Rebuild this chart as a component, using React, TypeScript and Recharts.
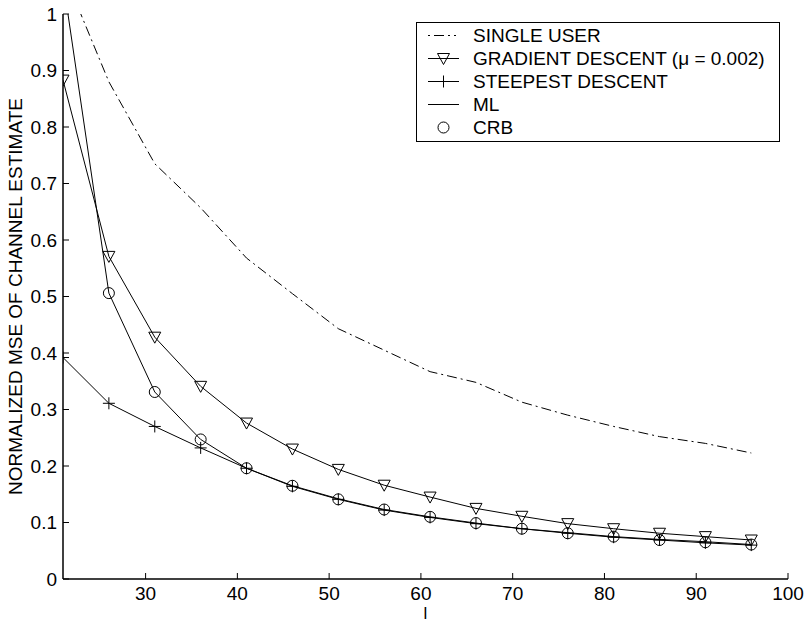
import React from 'react';
import { LineChart, Line, XAxis, YAxis, Legend } from 'recharts';

// sample index l
const lValues = [21, 26, 31, 36, 41, 46, 51, 56, 61, 66, 71, 76, 81, 86, 91, 96];

const singleUser = [1.076, 0.88, 0.735, 0.657, 0.568, 0.505, 0.443, 0.405, 0.367, 0.348, 0.313, 0.29, 0.27, 0.252, 0.24, 0.223];
const gradientDescent = [0.883, 0.571, 0.428, 0.341, 0.276, 0.23, 0.194, 0.166, 0.145, 0.125, 0.111, 0.098, 0.089, 0.081, 0.075, 0.069];
const steepestDescent = [0.392, 0.311, 0.27, 0.232, 0.196, 0.164, 0.141, 0.122, 0.109, 0.098, 0.089, 0.081, 0.074, 0.069, 0.064, 0.06];
const ml = [1.06, 0.506, 0.331, 0.247, 0.196, 0.165, 0.142, 0.123, 0.11, 0.099, 0.089, 0.082, 0.075, 0.07, 0.066, 0.061];
const crb = [null, 0.506, 0.331, 0.247, 0.196, 0.165, 0.141, 0.123, 0.11, 0.099, 0.089, 0.081, 0.075, 0.069, 0.065, 0.061];

const xTicks = [30, 40, 50, 60, 70, 80, 90, 100];
const yTicks = [0, 0.1, 0.2, 0.3, 0.4, 0.5, 0.6, 0.7, 0.8, 0.9, 1];
const yTickLabels = ['0', '0.1', '0.2', '0.3', '0.4', '0.5', '0.6', '0.7', '0.8', '0.9', '1'];

const legendNames = ['SINGLE USER', 'GRADIENT DESCENT (\u03bc = 0.002)', 'STEEPEST DESCENT', 'ML', 'CRB'];

const data = lValues.map((l, i) => ({
  l,
  single: singleUser[i],
  gradient: gradientDescent[i],
  steepest: steepestDescent[i],
  ml: ml[i],
  crb: crb[i],
}));

const FONT = '"Liberation Sans", Arial, Helvetica, sans-serif';
const DASH_DOT = '10 4 2 4';

function triangle(cx: number, cy: number, key?: any) {
  return (
    <path
      key={key}
      d={`M${cx - 6},${cy - 5} L${cx + 6},${cy - 5} L${cx},${cy + 6} Z`}
      fill="none"
      stroke="#000"
      strokeWidth={1}
    />
  );
}

function plus(cx: number, cy: number, key?: any) {
  return (
    <path key={key} d={`M${cx - 6},${cy} L${cx + 6},${cy} M${cx},${cy - 6} L${cx},${cy + 6}`} stroke="#000" strokeWidth={1} />
  );
}

function circle(cx: number, cy: number, key?: any) {
  return <circle key={key} cx={cx} cy={cy} r={5.5} fill="none" stroke="#000" strokeWidth={1} />;
}

const makeDot = (fn: (cx: number, cy: number, key?: any) => any) => (props: any) => {
  const { cx, cy, key, index } = props;
  if (cx == null || cy == null || props.value == null) return <g key={key ?? index} />;
  return fn(cx, cy, key ?? index);
};

const LegendBox = () => {
  const icons = [
    <line x1={11} x2={42} y1={11.5} y2={11.5} stroke="#000" strokeDasharray="2 4 10 4 2 4" />,
    <g>
      <line x1={11} x2={42} y1={11.5} y2={11.5} stroke="#000" />
      {triangle(26.5, 11.5)}
    </g>,
    <g>
      <line x1={11} x2={42} y1={11.5} y2={11.5} stroke="#000" />
      {plus(26.5, 11.5)}
    </g>,
    <line x1={11} x2={42} y1={11.5} y2={11.5} stroke="#000" />,
    circle(26.5, 11.5),
  ];
  return (
    <div
      style={{
        width: 362,
        border: '1px solid #000',
        background: '#fff',
        paddingTop: 1,
        paddingBottom: 2,
        fontFamily: FONT,
        fontSize: 19,
        color: '#000',
      }}
    >
      {legendNames.map((name, i) => (
        <div key={name} style={{ display: 'flex', alignItems: 'center', height: 23 }}>
          <svg width={56} height={23} style={{ flex: 'none' }}>
            {icons[i]}
          </svg>
          <span style={{ whiteSpace: 'nowrap' }}>{name}</span>
        </div>
      ))}
    </div>
  );
};

const YLabel = (props: any) => {
  const vb = props.viewBox || { x: 0, y: 14, width: 63, height: 565 };
  const cx = vb.x + 15;
  const cy = vb.y + vb.height / 2;
  return (
    <text
      x={cx}
      y={cy}
      transform={`rotate(-90 ${cx} ${cy})`}
      textAnchor="middle"
      dy="0.355em"
      fontSize={19}
      fontFamily={FONT}
      fill="#000"
    >
      NORMALIZED MSE OF CHANNEL ESTIMATE
    </text>
  );
};

export default function App() {
  const tickStyle = { fill: '#000', fontSize: 19, fontFamily: FONT };
  const axisLine = { stroke: '#000', strokeWidth: 1.5 };
  const tickLine = { stroke: '#000', strokeWidth: 1 };
  return (
    <div style={{ position: 'absolute', left: 0, top: 0, width: 806, height: 623, background: '#fff' }}>
      <LineChart width={806} height={623} data={data} margin={{ top: 14, right: 18, bottom: 0, left: 0 }}>
        <XAxis
          dataKey="l"
          type="number"
          domain={[21, 100]}
          ticks={xTicks}
          allowDataOverflow
          height={44}
          tickSize={-6}
          tickMargin={14}
          axisLine={axisLine}
          tickLine={tickLine}
          tick={tickStyle}
          label={{ value: 'l', position: 'insideBottom', offset: 4, fill: '#000', fontSize: 17, fontFamily: FONT }}
        />
        <XAxis
          xAxisId="top"
          orientation="top"
          dataKey="l"
          type="number"
          domain={[21, 100]}
          ticks={xTicks}
          allowDataOverflow
          height={0}
          tickSize={-6}
          axisLine={axisLine}
          tickLine={tickLine}
          tickFormatter={() => ''}
        />
        <YAxis
          type="number"
          domain={[0, 1]}
          ticks={yTicks}
          allowDataOverflow
          width={63}
          tickSize={-6}
          tickMargin={12}
          axisLine={axisLine}
          tickLine={tickLine}
          tick={tickStyle}
          tickFormatter={(v: number) => yTickLabels[yTicks.indexOf(v)] ?? String(v)}
          label={{ content: YLabel }}
        />
        <YAxis
          yAxisId="right"
          orientation="right"
          type="number"
          domain={[0, 1]}
          ticks={yTicks}
          allowDataOverflow
          width={0}
          tickSize={-6}
          axisLine={axisLine}
          tickLine={tickLine}
          tickFormatter={() => ''}
        />
        <Legend
          layout="horizontal"
          verticalAlign="middle"
          align="center"
          content={() => <LegendBox />}
          wrapperStyle={{ position: 'absolute', top: 22, left: 416, width: 364, height: 'auto' }}
        />
        <Line
          type="linear"
          dataKey="single"
          stroke="#000"
          strokeWidth={1}
          strokeDasharray={DASH_DOT}
          dot={false}
          activeDot={false}
          isAnimationActive={false}
        />
        <Line
          type="linear"
          dataKey="gradient"
          stroke="#000"
          strokeWidth={1}
          dot={makeDot(triangle)}
          activeDot={false}
          isAnimationActive={false}
        />
        <Line
          type="linear"
          dataKey="steepest"
          stroke="#000"
          strokeWidth={1}
          dot={makeDot(plus)}
          activeDot={false}
          isAnimationActive={false}
        />
        <Line type="linear" dataKey="ml" stroke="#000" strokeWidth={1} dot={false} activeDot={false} isAnimationActive={false} />
        <Line
          type="linear"
          dataKey="crb"
          stroke="none"
          dot={makeDot(circle)}
          activeDot={false}
          isAnimationActive={false}
        />
      </LineChart>
    </div>
  );
}
